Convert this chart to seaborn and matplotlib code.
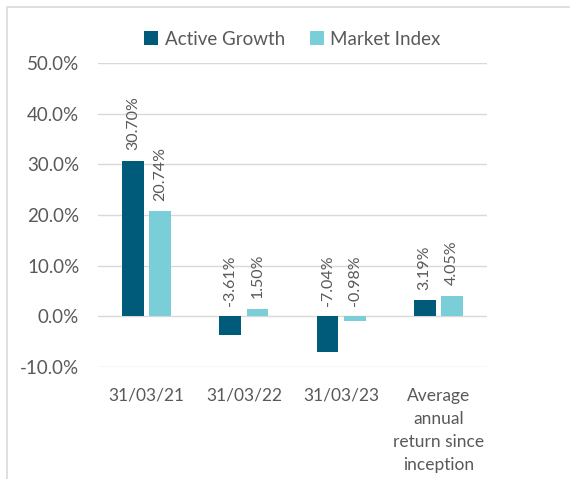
import matplotlib
matplotlib.use("Agg")
import matplotlib.pyplot as plt
import seaborn as sns
import pandas as pd
from matplotlib.patches import Rectangle

categories = ["31/03/21", "31/03/22", "31/03/23", "Average\nannual\nreturn since\ninception"]
active_growth = [30.70, -3.61, -7.04, 3.19]
market_index = [20.74, 1.50, -0.98, 4.05]
series = ["Active Growth", "Market Index"]
yticks = [-10, 0, 10, 20, 30, 40, 50]

df = pd.DataFrame({
    "cat": categories * 2,
    "series": [series[0]] * 4 + [series[1]] * 4,
    "val": active_growth + market_index,
})

sns.set_theme(style="white")
plt.rcParams["font.family"] = ["Lato", "DejaVu Sans"]
txt = "#595959"
grid = "#D9D9D9"

fig = plt.figure(figsize=(5.70, 4.79), dpi=100)
ax = fig.add_axes([98 / 570, 1 - 367 / 479, (487 - 98) / 570, (367 - 63) / 479])

palette = {"Active Growth": "#005A7A", "Market Index": "#79CED7"}
sns.barplot(data=df, x="cat", y="val", hue="series", palette=palette,
            width=0.56, gap=0.2, ax=ax, linewidth=0, saturation=1, legend=True,
            order=categories, hue_order=series)

ax.set_ylim(-10, 50)
ax.set_yticks(yticks)
ax.set_yticklabels([f"{t:.1f}%" for t in yticks], color=txt, fontsize=13.5)
ax.tick_params(axis="x", colors=txt, labelsize=12.5, length=0, pad=15)
ax.tick_params(axis="y", length=0, pad=13.5)
for lab in ax.get_xticklabels():
    lab.set_color(txt)
    lab.set_linespacing(1.55)
ax.set_xlabel("")
ax.set_ylabel("")
ax.grid(axis="y", color=grid, linewidth=1)
ax.set_axisbelow(True)
for s in ax.spines.values():
    s.set_visible(False)

# data labels
for cont, vals in zip(ax.containers, [active_growth, market_index]):
    for bar, v in zip(cont, vals):
        x = bar.get_x() + bar.get_width() / 2
        y = max(v, 0) + 2.1
        ax.text(x, y, f"{v:.2f}%", rotation=90, ha="center", va="bottom",
                color=txt, fontsize=11.5)

leg = ax.legend(loc="lower center", bbox_to_anchor=(0.5, 1.025), ncol=2, frameon=False,
                fontsize=13.5, handlelength=0.75, handleheight=0.75, handletextpad=0.35,
                columnspacing=1.3, borderaxespad=0)
for t in leg.get_texts():
    t.set_color(txt)

# chart frame
fig.patches.append(Rectangle((7 / 570, -0.1), 1.2, 1 - 7 / 479 + 0.1, transform=fig.transFigure,
                             fill=False, edgecolor=grid, linewidth=1.2))

fig.savefig("out.png", dpi=100)
